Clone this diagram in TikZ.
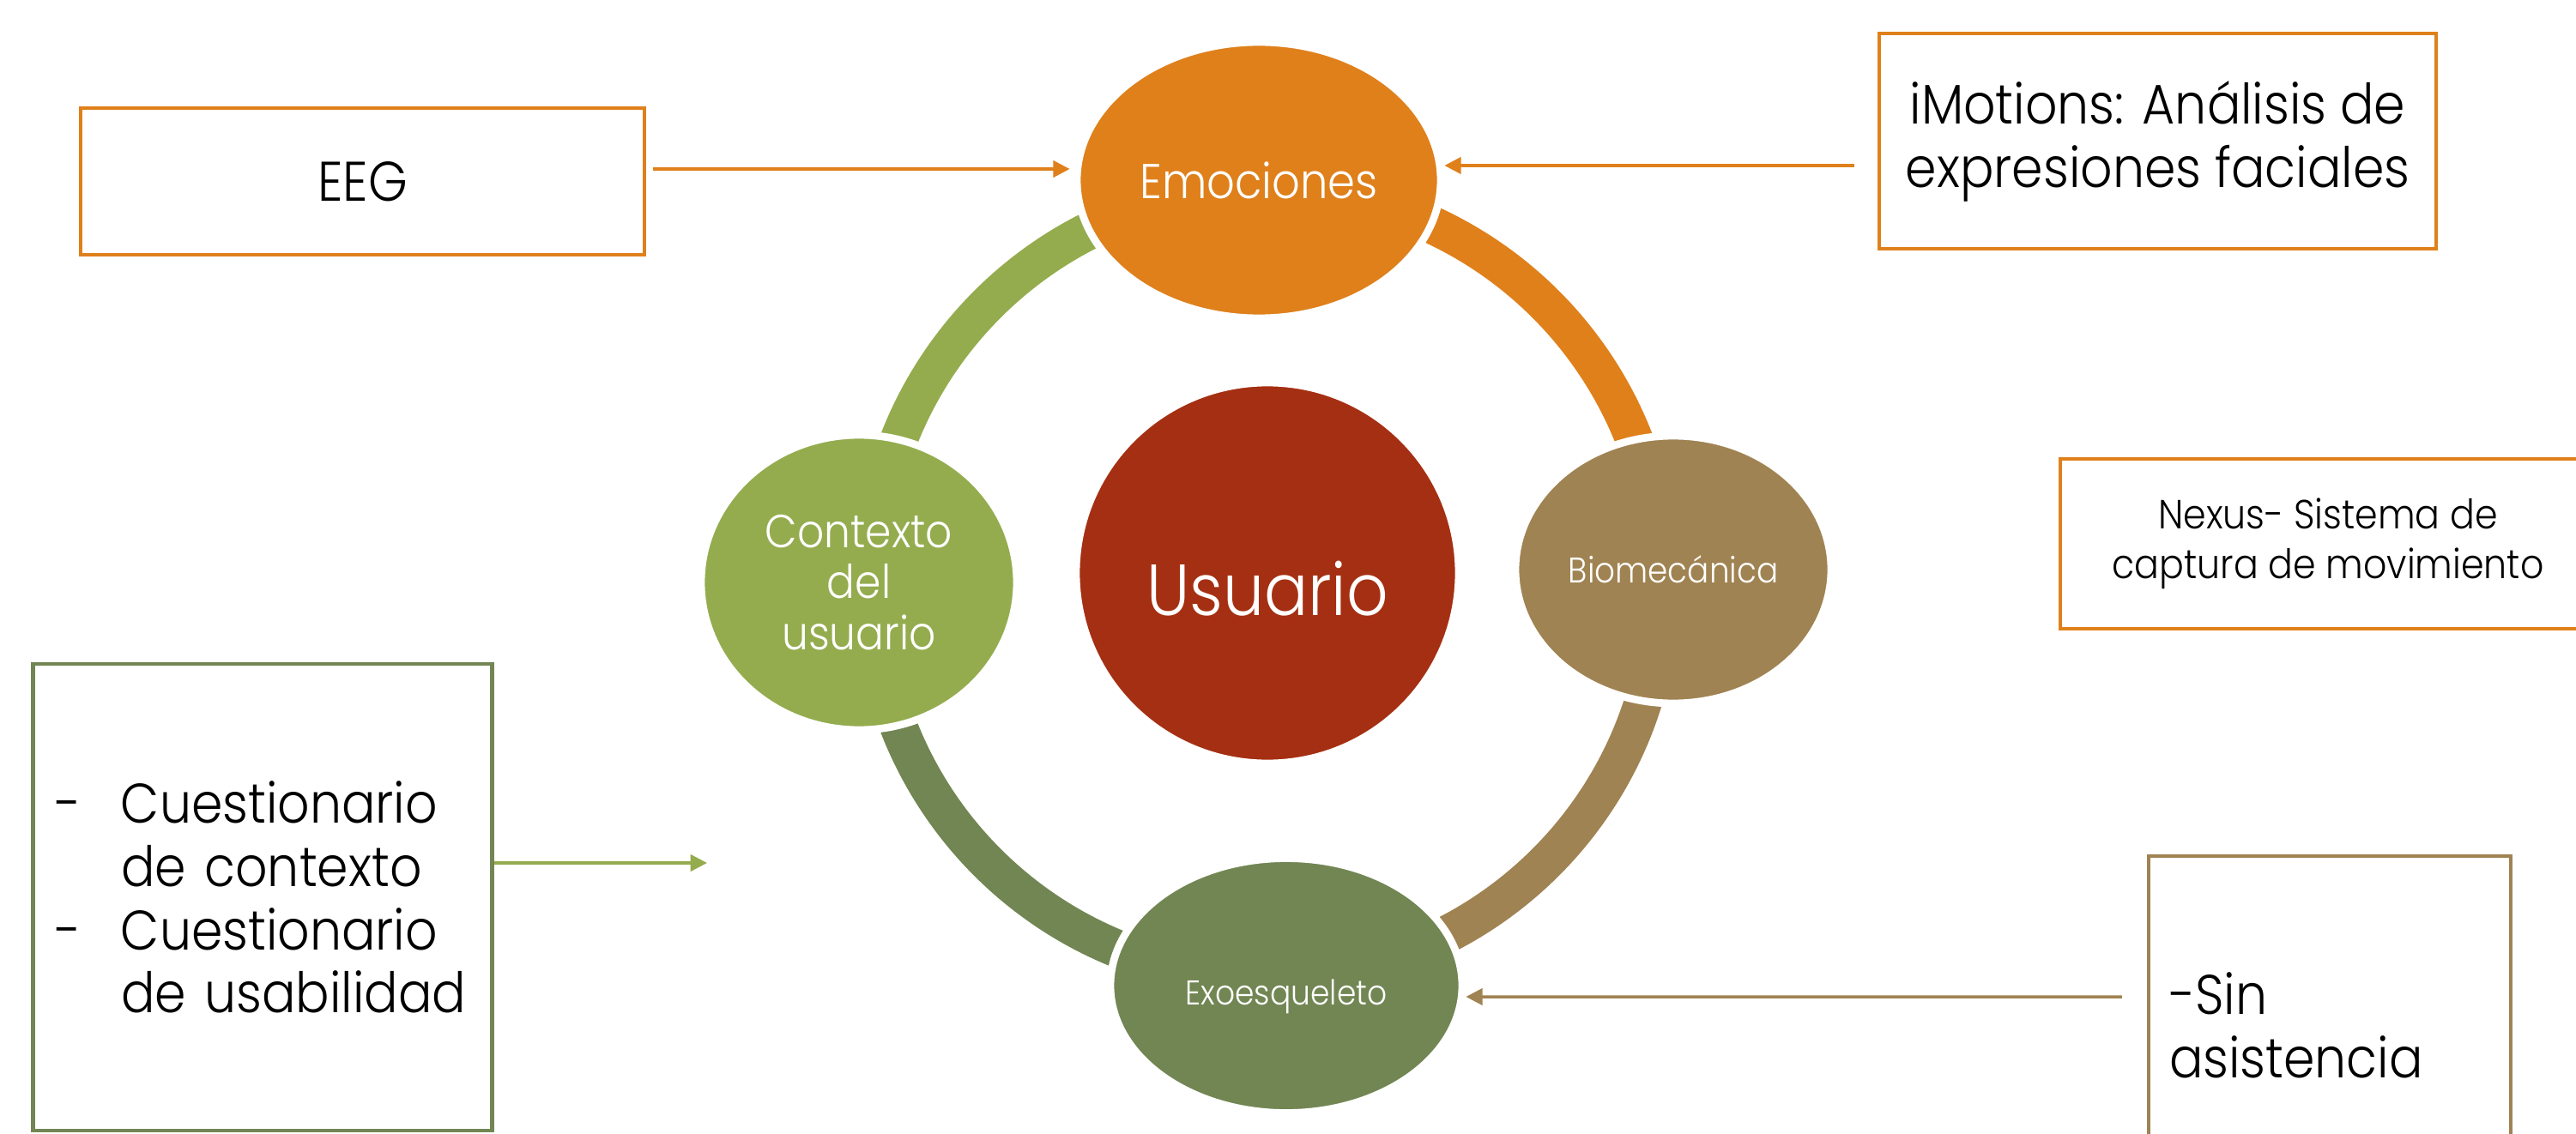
\documentclass[tikz,border=0pt]{standalone}
\usepackage{fontspec}
\setmainfont{Poppins}[FakeStretch=0.9, UprightFont={* Light}]
\usetikzlibrary{arrows.meta,shapes.geometric}
\definecolor{emoorange}{HTML}{DF801B}
\definecolor{userred}{HTML}{A52F12}
\definecolor{biobrown}{HTML}{A08352}
\definecolor{ctxgreen}{HTML}{94AC4E}
\definecolor{exogreen}{HTML}{728653}
\tikzset{
    %Define standard arrow tip
    >={Triangle[length=5.5pt,width=5.5pt]},
    bubble/.style={
      ellipse,
      draw=white, line width=2.5pt,
      inner sep=0pt,
      text=white,
      align=center},
    kasten/.style={
      rectangle,
      draw, line width=1.2pt,
      inner sep=0pt,
      text=black,
      font=\fontsize{18.5}{21}\selectfont},
    ringarc/.style={line width=0.44cm},
    link/.style={->, line width=1pt}
}
\begin{document}
\begin{tikzpicture}
    \useasboundingbox (0,0) rectangle (30.02,13.21);
    \clip (0,0) rectangle (30.02,13.21);
    % ring behind the circles
    \coordinate (ring) at (14.76,6.41);
    \foreach \start/\col in {90/emoorange,0/biobrown,-90/exogreen,180/ctxgreen}
        \draw [ringarc, \col] ([shift={(\start:4.6)}]ring)
              arc [start angle=\start, delta angle=-90, radius=4.6];
    % circles
    \node (usuario) [bubble, fill=userred, minimum width=4.46cm, minimum height=4.44cm,
          font=\fontsize{24}{28}\selectfont] at (14.77,6.53)
          {\raisebox{-0.49cm}[0pt][0pt]{Usuario}};
    \node (emo) [bubble, fill=emoorange, minimum width=4.24cm, minimum height=3.22cm,
          font=\fontsize{16.2}{19}\selectfont] at (14.67,11.11)
          {Emociones};
    \node (bio) [bubble, fill=biobrown, minimum width=3.68cm, minimum height=3.12cm,
          font=\fontsize{11.8}{14}\selectfont] at (19.50,6.57)
          {Biomecánica};
    \node (exo) [bubble, fill=exogreen, minimum width=4.10cm, minimum height=2.97cm,
          font=\fontsize{11.4}{14}\selectfont] at (14.99,1.72)
          {\raisebox{-0.22cm}[0pt][0pt]{Exoesqueleto}};
    \node (ctx) [bubble, fill=ctxgreen, minimum width=3.68cm, minimum height=3.44cm,
          font=\fontsize{15.4}{17}\selectfont] at (10.01,6.42)
          {Contexto\\del\\usuario};
    % boxes
    \node (eeg) [kasten, draw=emoorange, minimum width=6.57cm, minimum height=1.71cm]
          at (4.225,11.095)
          {EEG};
    \node (imo) [kasten, draw=emoorange, minimum width=6.49cm, minimum height=2.51cm,
          align=center] at (25.145,11.565)
          {iMotions: Análisis de\\expresiones faciales};
    \node (nexus) [kasten, draw=emoorange, minimum width=6.24cm, minimum height=1.98cm,
          align=center, font=\fontsize{13.5}{16.5}\selectfont] at (27.13,6.87)
          {Nexus- Sistema de\\captura de movimiento};
    \node (cuest) [kasten, draw=exogreen, minimum width=5.35cm, minimum height=5.44cm,
          text width=4.84cm, align=left] at (3.06,2.75)
          {\makebox[0.77cm][l]{-}Cuestionario\\\hspace*{0.77cm}de contexto\\
           \makebox[0.77cm][l]{-}Cuestionario\\\hspace*{0.77cm}de usabilidad};
    \node (sin) [kasten, draw=biobrown, minimum width=4.22cm, minimum height=3.94cm,
          text width=3.74cm, align=left] at (27.15,1.26)
          {-Sin\\asistencia};
    \coordinate (cuesttip) at (8.24,3.15);
    % connectors
    \draw [link, emoorange] ([shift={(0.08,0.145)}]eeg.east) -- ([shift={(-0.04,0.13)}]emo.west);
    \draw [link, emoorange] ([shift={(-0.27,-0.285)}]imo.west) -- ([yshift=0.17cm]emo.east);
    \draw [link, ctxgreen] ([yshift=0.40cm]cuest.east) -- (cuesttip);
    \draw [link, biobrown] ([shift={(-0.29,0.33)}]sin.west) -- ([yshift=-0.13cm]exo.east);
\end{tikzpicture}
\end{document}
